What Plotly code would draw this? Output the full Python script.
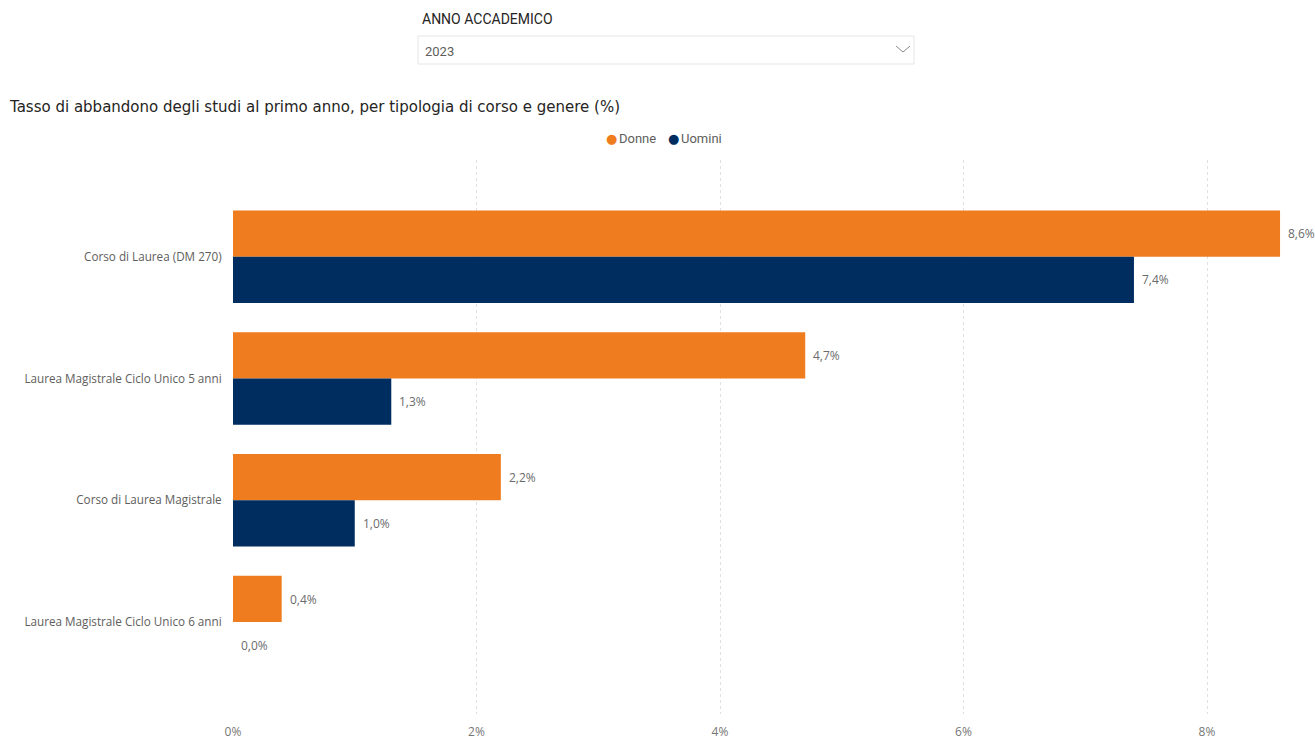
import plotly.graph_objects as go

# Dropout rate in the first year, by course type and gender (%)
categorie = [
    "Corso di Laurea (DM 270)",
    "Laurea Magistrale Ciclo Unico 5 anni",
    "Corso di Laurea Magistrale",
    "Laurea Magistrale Ciclo Unico 6 anni",
]
donne = [8.6, 4.7, 2.2, 0.4]
uomini = [7.4, 1.3, 1.0, 0.0]
serie_nomi = ["Donne", "Uomini"]
tick_valori = [0, 2, 4, 6, 8]
tick_testi = ["0%", "2%", "4%", "6%", "8%"]
anno = "2023"

ARANCIO = "#EF7D1F"
BLU = "#002D5F"
W, H = 1315, 740
ML, MR, MT, MB = 233, 25, 160, 26
PW, PH = W - ML - MR, H - MT - MB


def px(x):
    return (x - ML) / PW


def py(y):
    return (H - MB - y) / PH


fig = go.Figure()
for nome, valori, colore in [(serie_nomi[0], donne, ARANCIO), (serie_nomi[1], uomini, BLU)]:
    fig.add_trace(go.Bar(
        y=categorie, x=valori, name=nome, orientation="h",
        marker=dict(color=colore, line=dict(width=0)),
        showlegend=False,
    ))

# value labels next to each bar end
annots = []
for i, cat in enumerate(categorie):
    for valori, shift in [(donne, 23), (uomini, -23)]:
        v = valori[i]
        annots.append(dict(
            x=v, y=cat, xref="x", yref="y", xanchor="left", yanchor="middle",
            xshift=6, yshift=shift, showarrow=False,
            text=f"{v:.1f}%".replace(".", ","),
            font=dict(family="Open Sans", size=12, color="#6b6b6b"),
        ))

# title
annots.append(dict(
    x=px(7), y=py(107), xref="paper", yref="paper", xanchor="left", yanchor="middle",
    showarrow=False,
    text="Tasso di abbandono degli studi al primo anno, per tipologia di corso e genere (%)",
    font=dict(family="DejaVu Sans", size=15, color="#252423"),
))

# legend: coloured dot + series name
for nome, colore, xd, xt in [(serie_nomi[0], ARANCIO, 611, 617), (serie_nomi[1], BLU, 673, 679)]:
    annots.append(dict(
        x=px(xd), y=py(139), xref="paper", yref="paper", xanchor="center", yanchor="middle",
        showarrow=False, text="●", font=dict(family="DejaVu Sans", size=13, color=colore),
    ))
    annots.append(dict(
        x=px(xt), y=py(139), xref="paper", yref="paper", xanchor="left", yanchor="middle",
        showarrow=False, text=nome, font=dict(family="Roboto", size=13, color="#605E5C"),
    ))

# slicer header and selected value
annots.append(dict(
    x=px(420), y=py(19), xref="paper", yref="paper", xanchor="left", yanchor="middle",
    showarrow=False, text="ANNO ACCADEMICO",
    font=dict(family="Roboto", size=14, color="#252423"),
))
annots.append(dict(
    x=px(423), y=py(51), xref="paper", yref="paper", xanchor="left", yanchor="middle",
    showarrow=False, text=anno,
    font=dict(family="Roboto", size=13, color="#605E5C"),
))

shapes = [
    dict(type="rect", xref="paper", yref="paper",
         x0=px(418), x1=px(914), y0=py(36), y1=py(64),
         line=dict(color="#E6E6E6", width=1), fillcolor="white"),
    dict(type="path", xref="paper", yref="paper",
         path=f"M {px(896)},{py(46)} L {px(903)},{py(52)} L {px(910)},{py(46)}",
         line=dict(color="#8a8a8a", width=1)),
]

fig.update_layout(
    width=W, height=H,
    margin=dict(l=ML, r=MR, t=MT, b=MB),
    paper_bgcolor="white", plot_bgcolor="white",
    barmode="group", bargap=0.24, bargroupgap=0,
    annotations=annots, shapes=shapes,
    xaxis=dict(
        range=[0, PW / 121.75], automargin=False,
        tickvals=tick_valori, ticktext=tick_testi,
        showgrid=True, gridcolor="#E0E0E0", griddash="dot", gridwidth=1,
        zeroline=False, showline=False,
        ticks="outside", ticklen=7, tickcolor="rgba(0,0,0,0)",
        tickfont=dict(family="Open Sans", size=12, color="#777777"),
    ),
    yaxis=dict(
        categoryorder="array", categoryarray=categorie,
        range=[3.755, -0.795], automargin=False,
        showgrid=False, zeroline=False, showline=False,
        ticks="outside", ticklen=8, tickcolor="rgba(0,0,0,0)",
        tickfont=dict(family="Open Sans", size=11.7, color="#605E5C"),
    ),
)

fig.write_html("out.html")
